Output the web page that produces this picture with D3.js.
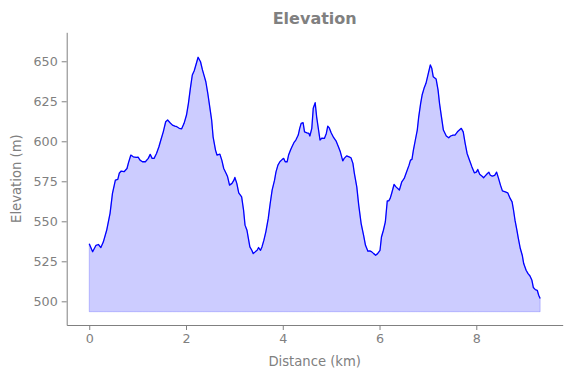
<!DOCTYPE html>
<html>
<head>
<meta charset="utf-8">
<script src="https://cdn.jsdelivr.net/npm/d3@7"></script>
<style>
  html, body { margin: 0; padding: 0; background: #fff; }
  svg { display: block; font-family: "DejaVu Sans", sans-serif; }
</style>
</head>
<body>
<svg id="chart" width="571" height="378"></svg>
<script>
// ---- Data ----
const distanceKm = [
  0.00,0.07,0.14,0.19,0.24,0.29,0.36,0.43,0.48,0.54,0.59,0.62,0.66,0.72,0.78,0.81,0.86,0.91,0.97,1.01,
  1.05,1.10,1.16,1.22,1.26,1.30,1.34,1.39,1.44,1.48,1.53,1.58,1.62,1.67,1.72,1.77,1.81,1.86,1.91,1.96,
  2.01,2.05,2.09,2.13,2.17,2.21,2.25,2.30,2.34,2.38,2.41,2.45,2.49,2.53,2.56,2.61,2.64,2.70,2.74,2.78,
  2.83,2.86,2.90,2.95,2.99,3.01,3.05,3.09,3.15,3.19,3.22,3.26,3.29,3.32,3.36,3.39,3.43,3.47,3.50,3.54,
  3.57,3.61,3.65,3.70,3.74,3.78,3.83,3.86,3.90,3.94,3.99,4.02,4.05,4.09,4.12,4.16,4.19,4.23,4.27,4.32,
  4.35,4.38,4.42,4.45,4.50,4.54,4.56,4.60,4.63,4.67,4.70,4.74,4.77,4.81,4.86,4.90,4.93,4.96,5.00,5.05,
  5.10,5.15,5.19,5.24,5.27,5.32,5.37,5.41,5.45,5.48,5.53,5.57,5.62,5.67,5.71,5.76,5.80,5.84,5.88,5.92,
  5.96,6.01,6.04,6.08,6.12,6.16,6.19,6.22,6.25,6.30,6.34,6.41,6.46,6.51,6.56,6.61,6.64,6.67,6.70,6.74,
  6.78,6.81,6.85,6.88,6.92,6.96,7.00,7.05,7.08,7.11,7.17,7.21,7.24,7.28,7.32,7.38,7.43,7.47,7.52,7.56,
  7.61,7.65,7.69,7.73,7.77,7.81,7.86,7.91,7.96,8.00,8.03,8.07,8.12,8.15,8.18,8.23,8.26,8.29,8.33,8.38,
  8.42,8.46,8.50,8.54,8.60,8.65,8.70,8.74,8.77,8.80,8.84,8.87,8.91,8.95,8.98,9.03,9.07,9.11,9.15,9.18,
  9.22,9.26,9.29,9.32
];
const elevationM = [
  536.0,531.0,535.0,535.5,533.6,537.0,544.4,555.0,567.4,575.7,576.2,580.0,581.4,581.0,583.0,586.5,591.4,590.3,590.0,590.1,
  588.2,587.2,587.2,589.3,591.8,589.3,589.3,592.4,596.6,600.8,605.9,612.2,613.3,611.6,610.1,609.5,609.1,608.1,607.8,611.2,
  616.4,623.7,633.1,641.4,644.1,648.3,652.5,649.7,644.6,640.4,637.2,630.0,621.6,613.3,602.8,594.5,591.4,592.0,588.2,583.0,
  579.9,577.8,572.6,573.7,575.7,577.4,573.7,567.8,565.3,556.9,547.6,544.4,539.2,534.0,531.9,529.8,530.9,531.9,533.6,531.9,
  534.0,538.2,543.4,551.8,561.1,569.5,575.7,580.9,585.1,587.2,588.7,589.3,587.2,587.2,591.4,594.5,596.6,599.1,600.8,603.9,
  608.1,611.2,611.6,605.9,605.3,604.9,603.3,608.1,620.6,624.1,615.3,607.0,600.8,602.0,601.8,604.9,609.5,608.4,605.3,602.4,
  600.3,596.6,593.4,587.8,589.3,590.9,590.3,589.7,586.2,579.9,571.5,560.1,548.6,541.3,535.0,531.3,531.5,530.9,529.8,528.8,
  529.8,531.9,540.2,544.4,549.6,562.8,562.8,564.3,567.4,573.0,571.5,569.5,574.7,576.8,580.9,585.1,588.2,588.7,594.5,600.8,
  607.0,615.3,623.7,628.9,633.1,636.2,641.4,647.7,645.6,640.4,638.9,632.0,623.7,615.3,607.0,603.3,602.2,603.3,603.9,603.9,
  605.9,607.0,608.1,605.9,598.7,592.4,588.2,584.0,580.3,580.7,582.4,579.4,578.2,577.2,578.2,579.9,580.7,578.8,578.2,578.7,
  580.7,576.8,572.6,569.0,568.4,567.8,564.3,562.1,556.9,550.7,544.4,539.2,533.0,528.8,523.6,519.4,517.3,515.8,513.1,508.6,
  507.3,506.9,503.8,501.7
];
const fillBase = 493.5;               // bottom of shaded area (m)
const yDomain = [485.2, 668.1];       // visible elevation range
const xTicks = [0, 2, 4, 6, 8];
const yTicks = [500, 525, 550, 575, 600, 625, 650];
const titleText = "Elevation";
const xLabelText = "Distance (km)";
const yLabelText = "Elevation (m)";

// ---- Layout ----
const W = 571, H = 378;
const plot = { left: 66.7, right: 562.7, top: 32.3, bottom: 325 };
const grey = "#808080";

const data = distanceKm.map((d, i) => ({ d, e: elevationM[i] }));
const xMax = d3.max(distanceKm), xMin = d3.min(distanceKm);
const xPad = 0.05 * (xMax - xMin);

const x = d3.scaleLinear().domain([xMin - xPad, xMax + xPad]).range([plot.left, plot.right]);
const y = d3.scaleLinear().domain(yDomain).range([plot.bottom, plot.top]);

const svg = d3.select("#chart");

// area
const area = d3.area().x(p => x(p.d)).y0(y(fillBase)).y1(p => y(p.e));
svg.append("path").datum(data)
  .attr("d", area)
  .attr("fill", "rgba(0,0,255,0.2)")
  .attr("stroke", "rgba(0,0,255,0.2)")
  .attr("stroke-width", 1);

// line
const line = d3.line().x(p => x(p.d)).y(p => y(p.e));
svg.append("path").datum(data)
  .attr("d", line)
  .attr("fill", "none")
  .attr("stroke", "#0000ff")
  .attr("stroke-width", 1.3)
  .attr("stroke-linejoin", "round");

// axes
const xAxis = d3.axisBottom(x).tickValues(xTicks).tickFormat(d3.format("d")).tickSize(5).tickSizeOuter(0).tickPadding(4);
const yAxis = d3.axisLeft(y).tickValues(yTicks).tickFormat(d3.format("d")).tickSize(5).tickSizeOuter(0).tickPadding(4);

const gx = svg.append("g").attr("transform", `translate(0,${plot.bottom})`).call(xAxis);
const gy = svg.append("g").attr("transform", `translate(${plot.left},0)`).call(yAxis);

[gx, gy].forEach(g => {
  g.select(".domain").attr("stroke", grey).attr("stroke-width", 1);
  g.selectAll(".tick line").attr("stroke", grey).attr("stroke-width", 1);
  g.selectAll(".tick text").attr("fill", grey).attr("font-size", "12.7px").attr("font-family", "DejaVu Sans");
});

// title & labels
svg.append("text")
  .attr("x", (plot.left + plot.right) / 2).attr("y", 24)
  .attr("text-anchor", "middle")
  .attr("font-size", "16px").attr("font-weight", "bold")
  .attr("fill", grey)
  .text(titleText);

svg.append("text")
  .attr("x", (plot.left + plot.right) / 2).attr("y", 365.5)
  .attr("text-anchor", "middle")
  .attr("font-size", "13.2px")
  .attr("fill", grey)
  .text(xLabelText);

svg.append("text")
  .attr("transform", `translate(21,${(plot.top + plot.bottom) / 2}) rotate(-90)`)
  .attr("text-anchor", "middle")
  .attr("font-size", "13.2px")
  .attr("fill", grey)
  .text(yLabelText);
</script>
</body>
</html>
